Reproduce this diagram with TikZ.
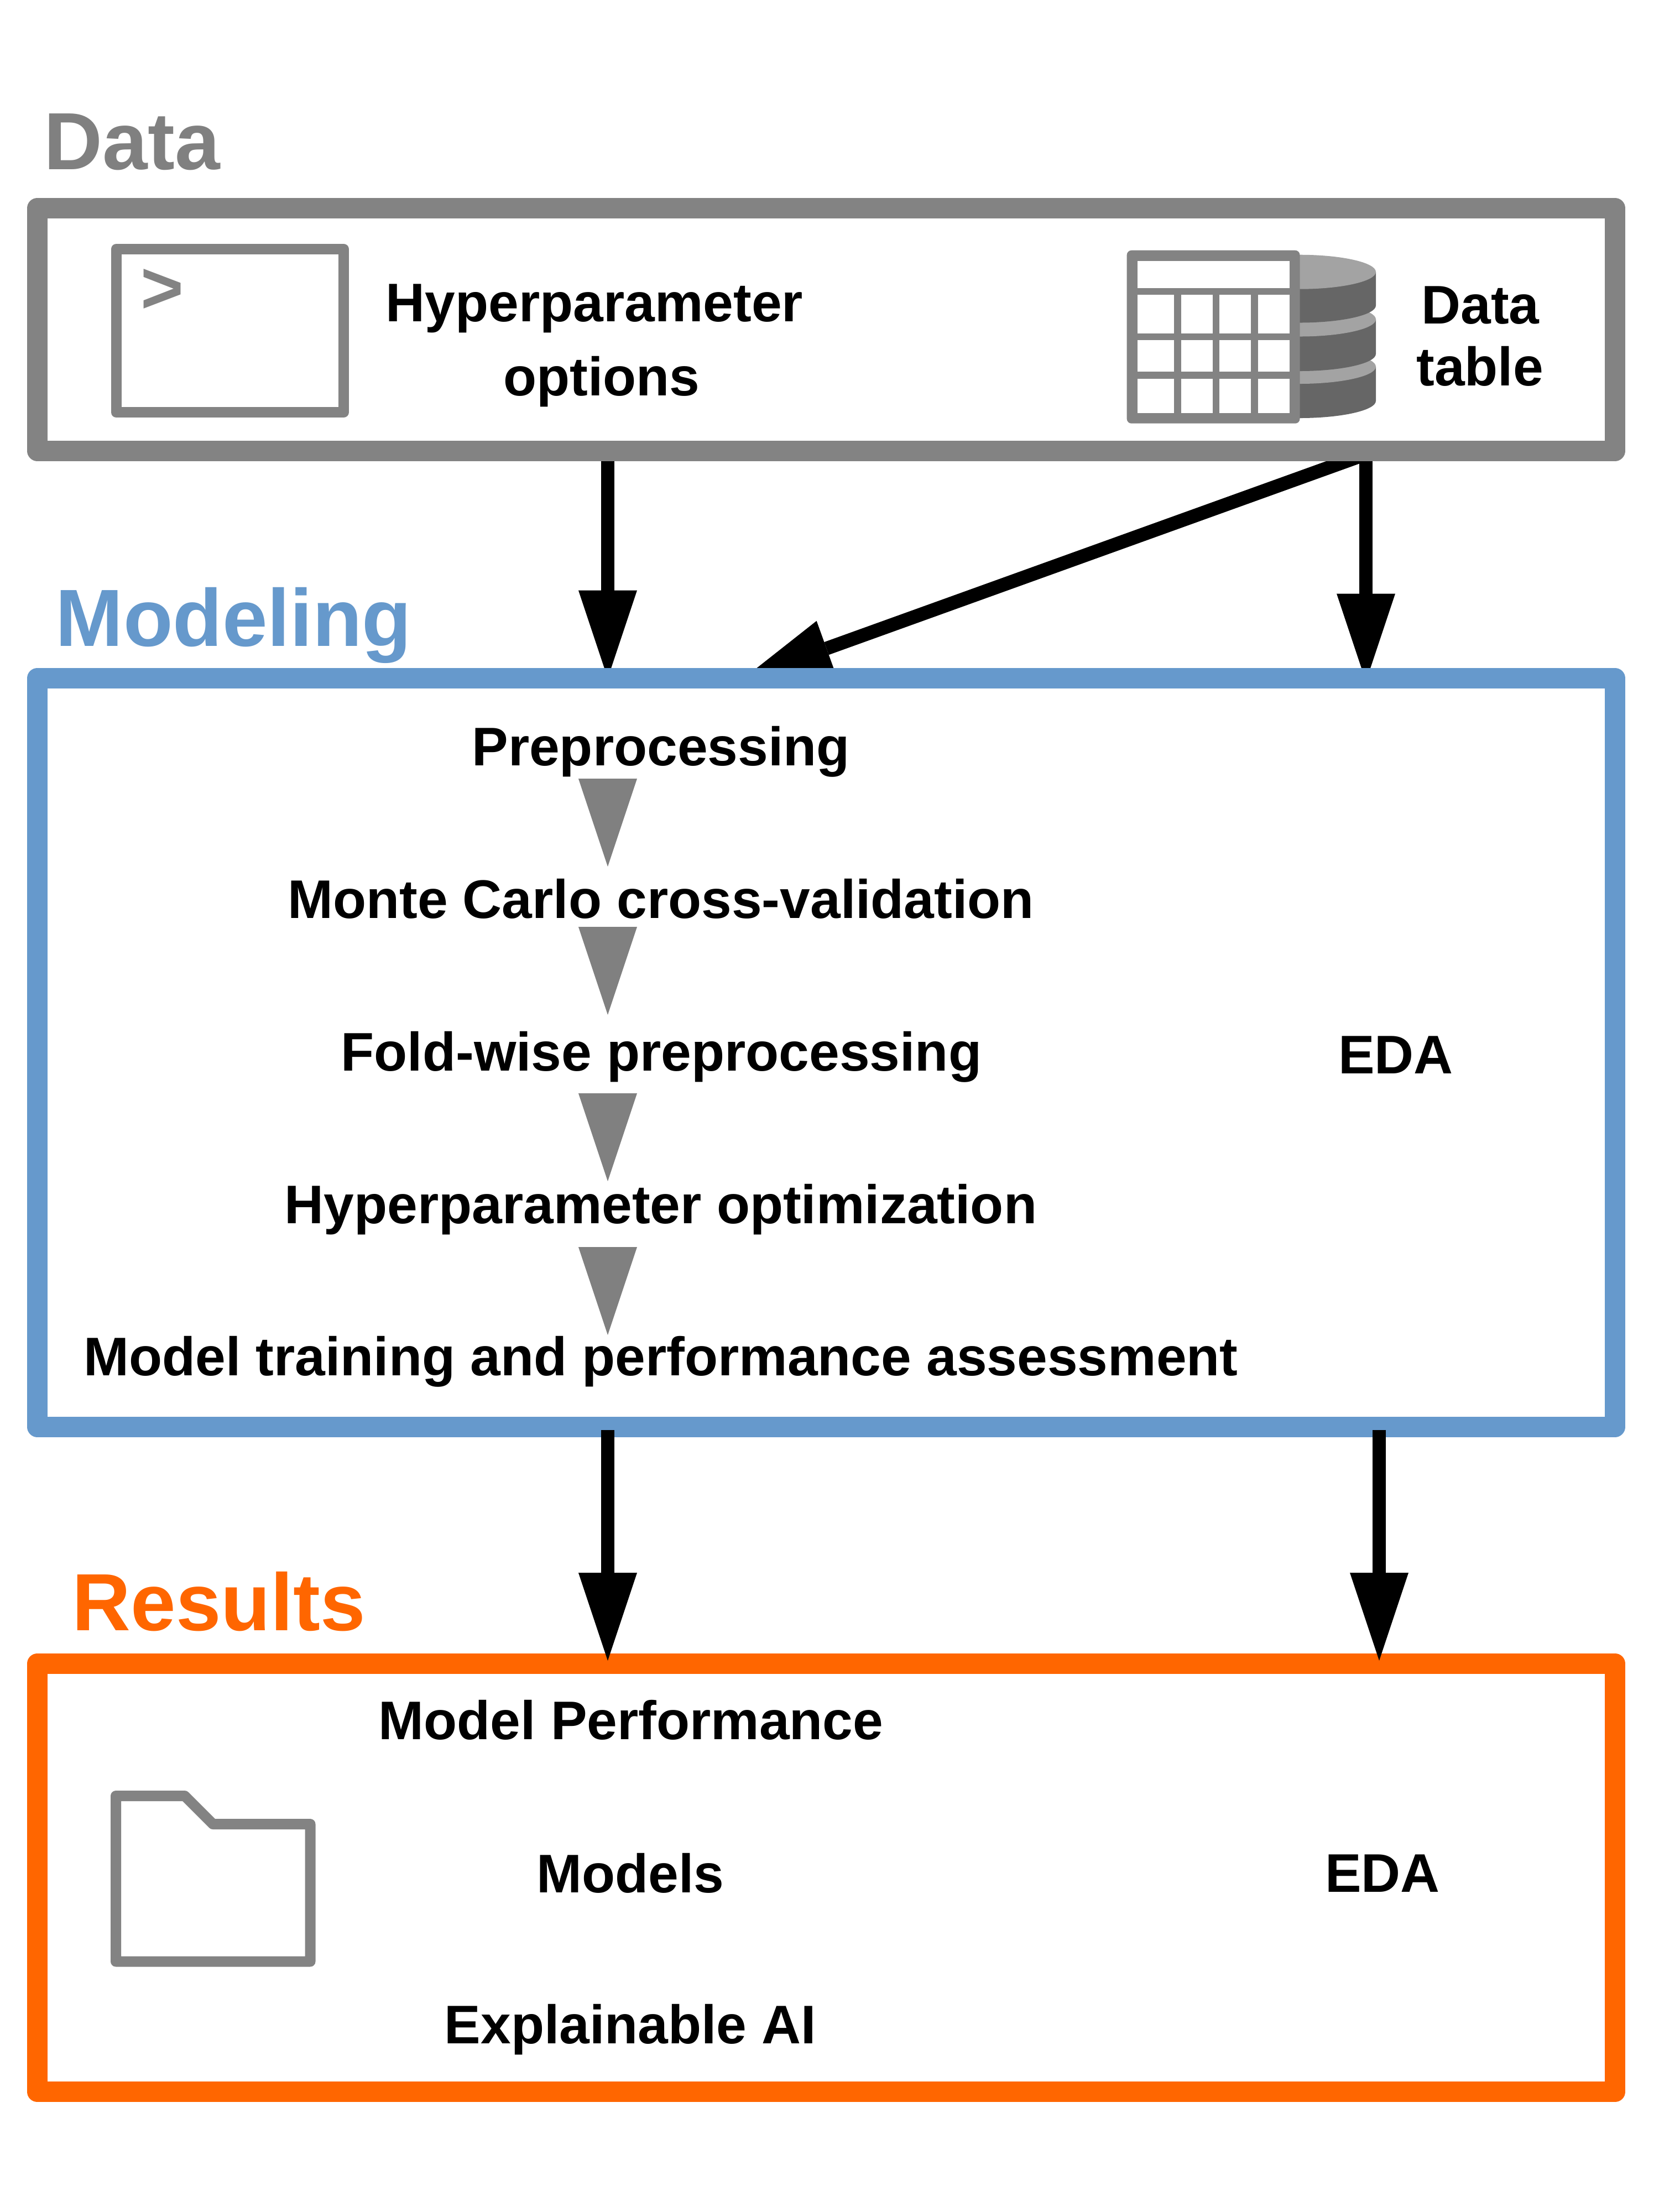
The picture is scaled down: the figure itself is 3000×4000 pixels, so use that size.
\documentclass[tikz,border=0pt]{standalone}
\usepackage{fontspec}
\setmainfont{Liberation Sans}
\usetikzlibrary{arrows.meta}
\definecolor{boxgray}{HTML}{838383}
\definecolor{stepgray}{HTML}{808080}
\definecolor{boxblue}{HTML}{6699CC}
\definecolor{boxorange}{HTML}{FF6600}
\definecolor{dbdark}{HTML}{666666}
\definecolor{dblight}{HTML}{A3A3A3}
\newcommand{\dbdisk}[2]{%
  \fill[dbdark] (2330,#1) -- (2488,#1) -- (2488,#2)
    .. controls (2488,{#2+17}) and (2426,{#2+31}) .. (2350,{#2+31}) -- (2330,{#2+31}) -- cycle;
  \fill[dblight] (2350,{#1-31}) .. controls (2426,{#1-31}) and (2488,{#1-17}) .. (2488,#1)
    .. controls (2488,{#1+17}) and (2426,{#1+31}) .. (2350,{#1+31}) -- (2330,{#1+31}) -- (2330,{#1-31}) -- cycle;}
\tikzset{
  x=0.24pt, y=-0.24pt,
  panel/.style={draw=#1, line width=37*0.24pt, line join=round, inner sep=0pt, outer sep=0pt,
    minimum width=2853*0.24pt},
  heading/.style={text=#1, anchor=base west, inner sep=0pt, font=\fontsize{35.2}{42}\bfseries\selectfont},
  label/.style={text=black, anchor=base, inner sep=0pt, font=\fontsize{23.6}{28}\bfseries\selectfont},
  flow/.style={draw=black, line width=24.5*0.24pt,
    -{Triangle[length=159*0.24pt, width=106*0.24pt, line width=0pt]}},
  stepdown/.style={draw=stepgray, line width=0.1pt,
    -{Triangle[length=159*0.24pt, width=106*0.24pt, line width=0pt]}},
  icon/.style={draw=boxgray, line width=19*0.24pt, line join=round, inner sep=0pt, outer sep=0pt},
}
\begin{document}
\begin{tikzpicture}
\useasboundingbox (0,0) rectangle (3000,4000);
\fill[white] (0,0) rectangle (3000,4000);

% named coordinates for the columns and the connector ends
\coordinate (xl) at (1099,0);
\coordinate (xr) at (2470,0);
\coordinate (xb) at (2494,0);
\coordinate (diagstart) at (2487,815);
\coordinate (diagend) at (1345,1226.5);
\coordinate (s1a) at (1099,1408); \coordinate (s1b) at (1099,1567);
\coordinate (s2a) at (1099,1676); \coordinate (s2b) at (1099,1835);
\coordinate (s3a) at (1099,1977); \coordinate (s3b) at (1099,2136);
\coordinate (s4a) at (1099,2255); \coordinate (s4b) at (1099,2414);

% panels are placed with their connectors beneath
\path (1494,595.75) node[minimum height=438.5*0.24pt, minimum width=2853*0.24pt, inner sep=0pt, outer sep=0pt] (data) {};
\path (1494,1903.25) node[minimum height=1353.5*0.24pt, minimum width=2853*0.24pt, inner sep=0pt, outer sep=0pt] (modeling) {};
\path (1494,3395.5) node[minimum height=774*0.24pt, minimum width=2853*0.24pt, inner sep=0pt, outer sep=0pt] (results) {};

\draw[flow] (xl |- data.south) -- (xl |- modeling.north);
\draw[flow, shorten >=-6*0.24pt] (xr |- data.south) -- (xr |- modeling.north);
\draw[flow] (diagstart) -- (diagend);

\node[panel=boxgray, minimum height=438.5*0.24pt] (datab) at (data) {};
\node[panel=boxblue, minimum height=1353.5*0.24pt] (modelingb) at (modeling) {};
\node[panel=boxorange, minimum height=774*0.24pt] (resultsb) at (results) {};

% headings
\node[heading=stepgray] (hdata) at (79,306.5) {Data};
\node[heading=boxblue] (hmodeling) at (100,1168.5) {Modeling};
\node[heading=boxorange] (hresults) at (130,2948) {Results};

% terminal icon
\node[icon, minimum width=411.5*0.24pt, minimum height=295*0.24pt] (terminal) at (415.75,598) {};
\node[text=boxgray, inner sep=0pt, font=\fontsize{32}{36}\bfseries\selectfont] (prompt) at (293,526) {>};

% database + table icon
\dbdisk{663}{725}
\dbdisk{577.5}{640}
\dbdisk{491.7}{552.5}
\fill[boxgray, rounded corners=2pt] (2037.7,452.7) rectangle (2350.5,765.7);
\fill[white] (2056.5,471.7) rectangle (2331.8,521);
\foreach \ya/\yb in {533.3/602.7, 615.3/672.3, 685/746.7}
  \foreach \xa/\xb in {2056.5/2122.8, 2135.5/2192.5, 2205.2/2262, 2274.8/2331.8}
    \fill[white] (\xa,\ya) rectangle (\xb,\yb);

% folder icon
\draw[icon] (209.5,3547) -- (561,3547) -- (561,3298.5) -- (385,3298.5) -- (334,3247.5) -- (209.5,3247.5) -- cycle;

% data labels
\node[label] (hp1) at (1075,581.5) {Hyperparameter};
\node[label] (hp2) at (1088,715) {options};
\node[label] (dt1) at (2677,585) {Data};
\node[label] (dt2) at (2676,697) {table};

% modeling steps
\draw[stepdown] (s1a) -- (s1b);
\draw[stepdown] (s2a) -- (s2b);
\draw[stepdown] (s3a) -- (s3b);
\draw[stepdown] (s4a) -- (s4b);
\node[label] (pre) at (1195,1384) {Preprocessing};
\node[label] (mc) at (1195,1660) {Monte Carlo cross-validation};
\node[label] (fold) at (1196,1936) {Fold-wise preprocessing};
\node[label] (opt) at (1195,2212) {Hyperparameter optimization};
\node[label] (train) at (1195,2487) {Model training and performance assessment};
\node[label] (eda1) at (2524,1941.5) {EDA};

% results labels
\node[label] (perf) at (1141,3145.5) {Model Performance};
\node[label] (models) at (1140,3422) {Models};
\node[label] (xai) at (1140,3695.5) {Explainable AI};
\node[label] (eda2) at (2500,3421.6) {EDA};

% connectors that lie over the panels
\draw[flow, shorten <=6*0.24pt, shorten >=5.5*0.24pt] (xl |- modeling.south) -- (xl |- results.north);
\draw[flow, shorten <=6*0.24pt, shorten >=5.5*0.24pt] (xb |- modeling.south) -- (xb |- results.north);
\end{tikzpicture}
\end{document}
